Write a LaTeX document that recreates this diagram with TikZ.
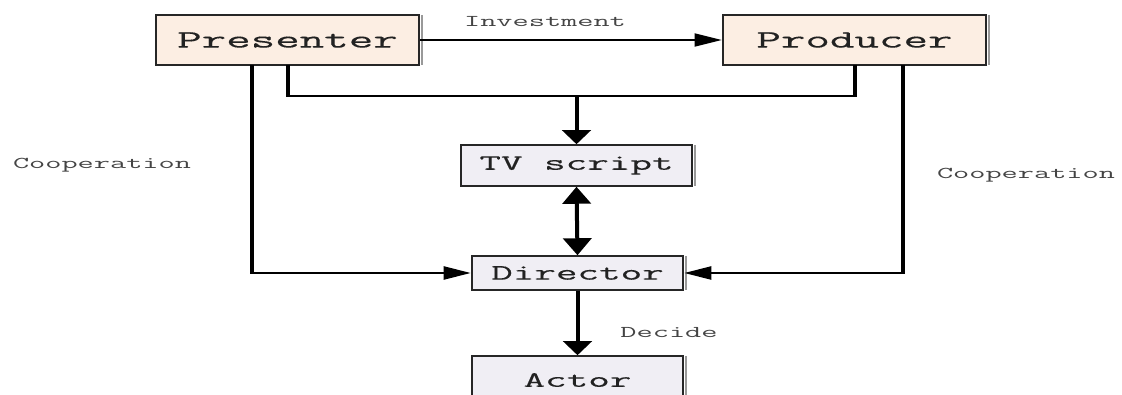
\documentclass[tikz,border=0pt]{standalone}
\usepackage{fontspec}
\newfontfamily\cour[FakeStretch=1.19]{Latin Modern Mono}
\newfontfamily\courb[FakeStretch=1.19,FakeBold=0.3]{Latin Modern Mono}
\usetikzlibrary{arrows.meta}
\definecolor{peach}{HTML}{FCEEE3}
\definecolor{lav}{HTML}{F0EEF4}
\definecolor{txt}{HTML}{222222}
\definecolor{lbl}{HTML}{444444}
\tikzset{
  box/.style={draw=black!85, line width=1.5pt, inner sep=0pt, text=txt},
  topbox/.style={box, fill=peach, minimum width=164.4pt, minimum height=50pt, font=\courb\fontsize{25}{25}\selectfont},
  midbox/.style={box, fill=lav, minimum width=131.9pt, font=\courb\fontsize{22}{22}\selectfont},
  conn/.style={line width=2.5pt, black},
  vtip/.tip={Triangle[width=17.5pt,length=14pt]},
  htip/.tip={Triangle[width=13pt,length=17pt]},
  dtip/.tip={Triangle[width=17.5pt,length=17pt]},
  varr/.style={conn, -vtip},
  harr/.style={conn, -htip},
  darr/.style={conn, dtip-dtip},
  shade/.style={draw=black!40, line width=0.9pt},
  lab/.style={text=lbl, font=\cour\fontsize{16.5}{16.5}\selectfont, inner sep=0pt},
}
\begin{document}
\begin{tikzpicture}
\useasboundingbox (0,0) rectangle (1122pt,-395pt);
\clip (0,0) rectangle (1122pt,-395pt);
\begin{scope}[transform canvas={xscale=1.6}, x=0.625pt, y=-1pt]
\node[topbox] (pres) at (287.5,40) {Presenter};
\node[topbox] (prod) at (854.5,40) {Producer};
\node[midbox, minimum width=144.4pt, minimum height=41pt] (tv) at (576.5,165.5) {TV script};
\node[midbox, minimum height=34pt] (dir) at (577.5,273) {Director};
\node[midbox, minimum height=48pt] (act) at (577.5,380) {Actor};
\foreach \n in {pres,prod,tv,dir,act}
  \draw[shade] ([xshift=1.1pt,yshift=-1pt]\n.north east) -- ([xshift=1.1pt,yshift=1pt]\n.south east);
\node[lab] (inv) at (545,22) {Investment};
\node[lab] (coopl) at (102,165) {Cooperation};
\node[lab] (coopr) at (1026,175) {Cooperation};
\node[lab] (dec) at (669,333) {Decide};
\coordinate (pl) at (252,65);
\coordinate (pr) at (288,65);
\coordinate (ql) at (855,65);
\coordinate (qr) at (903,65);
\coordinate (j) at (tv.north |- 0,96);
\draw[harr, line width=2pt] (pres.east) -- (prod.west);
\draw[conn] (pr) |- (j) -| (ql);
\draw[varr] (j) -- (tv.north);
\draw[harr] (pl) |- (dir.west);
\draw[harr] (qr) |- (dir.east);
\draw[darr] (tv.south) -- (dir.north);
\draw[varr] (dir.south) -- (act.north);
\end{scope}
\end{tikzpicture}
\end{document}
